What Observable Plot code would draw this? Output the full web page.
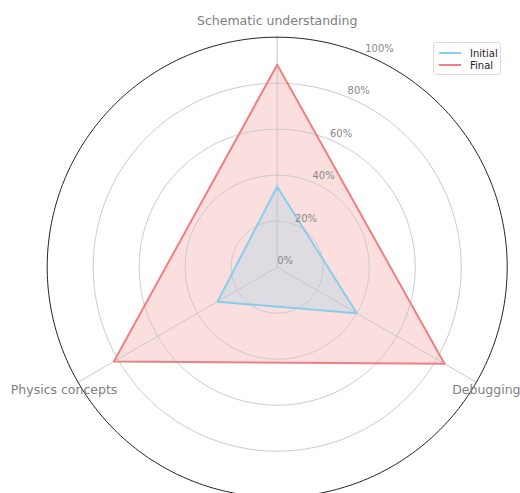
<!DOCTYPE html>
<html><head><meta charset="utf-8">
<script src="https://cdn.jsdelivr.net/npm/d3@7"></script>
<script src="https://cdn.jsdelivr.net/npm/@observablehq/plot@0.6"></script>
<style>
body{margin:0;background:#fff;font-family:"DejaVu Sans",sans-serif}
#wrap{position:relative;width:520px;height:493px;overflow:hidden}
#wrap svg{position:absolute;left:0;top:0}
.legend{position:absolute;left:433px;top:42px;width:68px;height:33px;box-sizing:border-box;border:1px solid #dcdcdc;border-radius:3px;background:rgba(255,255,255,0.85);font-size:10px;color:#222}
.legend .row{position:absolute;left:5px;height:12px;display:flex;align-items:center}
.legend .sw{width:22px;height:0;border-top:2px solid;margin-right:9px}
</style>
</head><body>
<div id="wrap"></div>
<script>
const categories = ["Schematic understanding", "Debugging", "Physics concepts"];
const seriesNames = ["Initial", "Final"];
const initialValues = [35, 40, 30];
const finalValues = [88, 84, 82];
const ringLevels = [0, 20, 40, 60, 80, 100];
const ringLabels = ["0%", "20%", "40%", "60%", "80%", "100%"];
const seriesColors = ["#87CEEB", "#F08080"];

const W = 520, H = 493, cx = 276.7, cy = 266.7, k = 2.3;
const ang = i => i * 2 * Math.PI / categories.length;
const px = (r, a) => r * Math.sin(a);
const py = (r, a) => r * Math.cos(a);

function polygon(values, name) {
  const pts = values.map((v, i) => ({series: name, x: px(v, ang(i)), y: py(v, ang(i))}));
  pts.push(pts[0]);
  return pts;
}
const initialPoly = polygon(initialValues, seriesNames[0]);
const finalPoly = polygon(finalValues, seriesNames[1]);

const rings = ringLevels.filter(l => l > 0).flatMap(l =>
  d3.range(0, 361, 1).map(d => ({level: l, x: px(l, d * Math.PI / 180), y: py(l, d * Math.PI / 180)})));
const spokes = categories.flatMap((c, i) => [{c, x: 0, y: 0}, {c, x: px(100, ang(i)), y: py(100, ang(i))}]);
const catLabels = categories.map((c, i) => ({c, x: px(107, ang(i)), y: py(107, ang(i))}));
const rLab = ringLevels.map((l, i) => ({t: ringLabels[i], x: px(l, Math.PI / 8), y: py(l, Math.PI / 8)}));

const chart = Plot.plot({
  width: W, height: H,
  margin: 0,
  x: {domain: [-cx / k, (W - cx) / k], axis: null},
  y: {domain: [-(H - cy) / k, cy / k], axis: null},
  style: {fontFamily: "DejaVu Sans, sans-serif", background: "white"},
  marks: [
    Plot.line(finalPoly, {x: "x", y: "y", stroke: "none", fill: seriesColors[1], fillOpacity: 0.25}),
    Plot.line(initialPoly, {x: "x", y: "y", stroke: "none", fill: seriesColors[0], fillOpacity: 0.25}),
    Plot.line(rings.filter(d => d.level < 100), {x: "x", y: "y", z: "level", stroke: "#c4c4c4", strokeWidth: 0.9}),
    Plot.line(spokes, {x: "x", y: "y", z: "c", stroke: "#c4c4c4", strokeWidth: 0.9}),
    Plot.line(rings.filter(d => d.level === 100), {x: "x", y: "y", stroke: "#222", strokeWidth: 1}),
    Plot.line(finalPoly, {x: "x", y: "y", stroke: seriesColors[1], strokeWidth: 2}),
    Plot.line(initialPoly, {x: "x", y: "y", stroke: seriesColors[0], strokeWidth: 2}),
    Plot.text(rLab, {x: "x", y: "y", text: "t", textAnchor: "start", dy: -6, fontSize: 10, fill: "#888"}),
    Plot.text(catLabels.filter(d => d.c !== "Debugging"), {x: "x", y: "y", text: "c", textAnchor: "middle", fontSize: 12.5, fill: "#808080"}),
    Plot.text(catLabels.filter(d => d.c === "Debugging"), {x: "x", y: "y", text: "c", textAnchor: "middle", dx: -4, fontSize: 12.5, fill: "#808080"})
  ]
});
const wrap = document.getElementById("wrap");
wrap.appendChild(chart);

const leg = document.createElement("div");
leg.className = "legend";
seriesNames.forEach((n, i) => {
  const row = document.createElement("div");
  row.className = "row";
  row.style.top = (4 + i * 12) + "px";
  const sw = document.createElement("span");
  sw.className = "sw";
  sw.style.borderColor = seriesColors[i];
  const t = document.createElement("span");
  t.textContent = n;
  row.appendChild(sw); row.appendChild(t);
  leg.appendChild(row);
});
wrap.appendChild(leg);
</script>
</body></html>
